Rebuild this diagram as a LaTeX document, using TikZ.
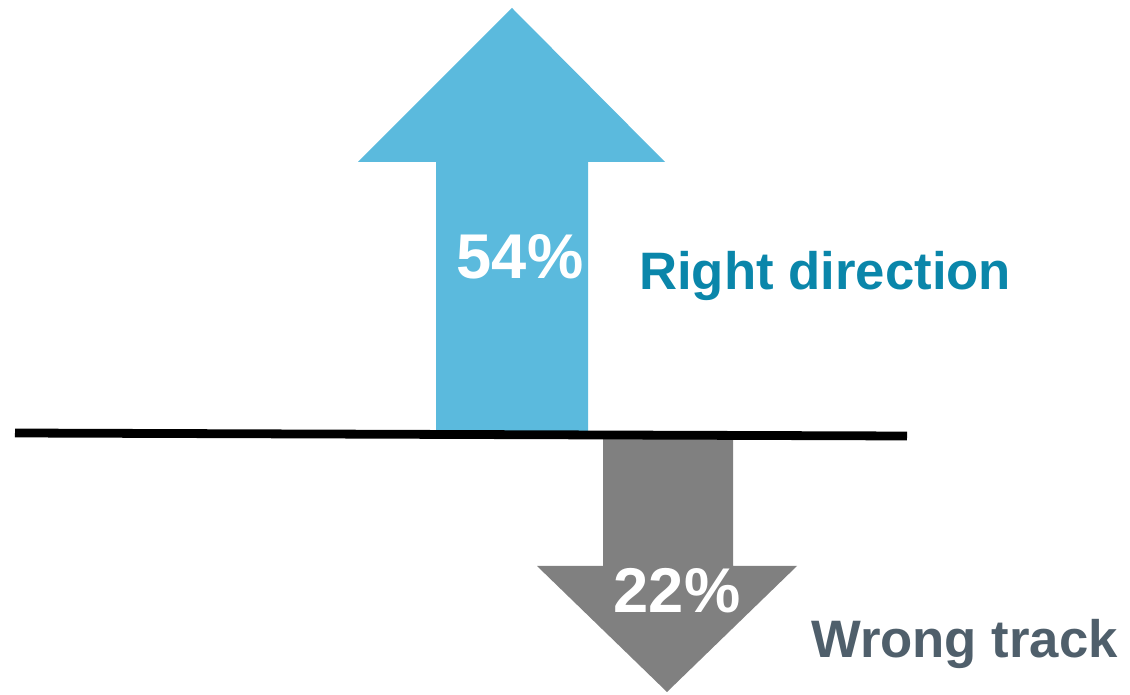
\documentclass[tikz,border=0pt]{standalone}
\usepackage{fontspec}
\setmainfont{Liberation Sans}
\definecolor{upblue}{HTML}{5BBADD}
\definecolor{downgray}{HTML}{808080}
\definecolor{righttxt}{HTML}{0A86AA}
\definecolor{wrongtxt}{HTML}{4F5F6B}
\begin{document}
\begin{tikzpicture}[x=0.02cm,y=-0.02cm,
  pct/.style={white,font=\bfseries\fontsize{36}{40}\selectfont,anchor=base},
  lbl/.style={font=\bfseries\fontsize{30}{34}\selectfont,anchor=base west}]
\useasboundingbox (0,0) rectangle (1130,695);
\fill[upblue] (436,431) -- (436,162) -- (358,162) -- (512,8) -- (665,162) -- (588,162) -- (588,431) -- cycle;
\fill[downgray] (603,435) -- (603,566) -- (537,566) -- (667,692) -- (797,566) -- (733,566) -- (733,435) -- cycle;
\draw[line width=5pt] (15,433) -- (907,436);
\node[pct] (up) at (520,279) {54\%};
\node[pct] (down) at (677,613) {22\%};
\node[lbl,righttxt] (right) at (633,290) {Right direction};
\node[lbl,wrongtxt] (wrong) at (805,658) {Wrong track};
\end{tikzpicture}
\end{document}
